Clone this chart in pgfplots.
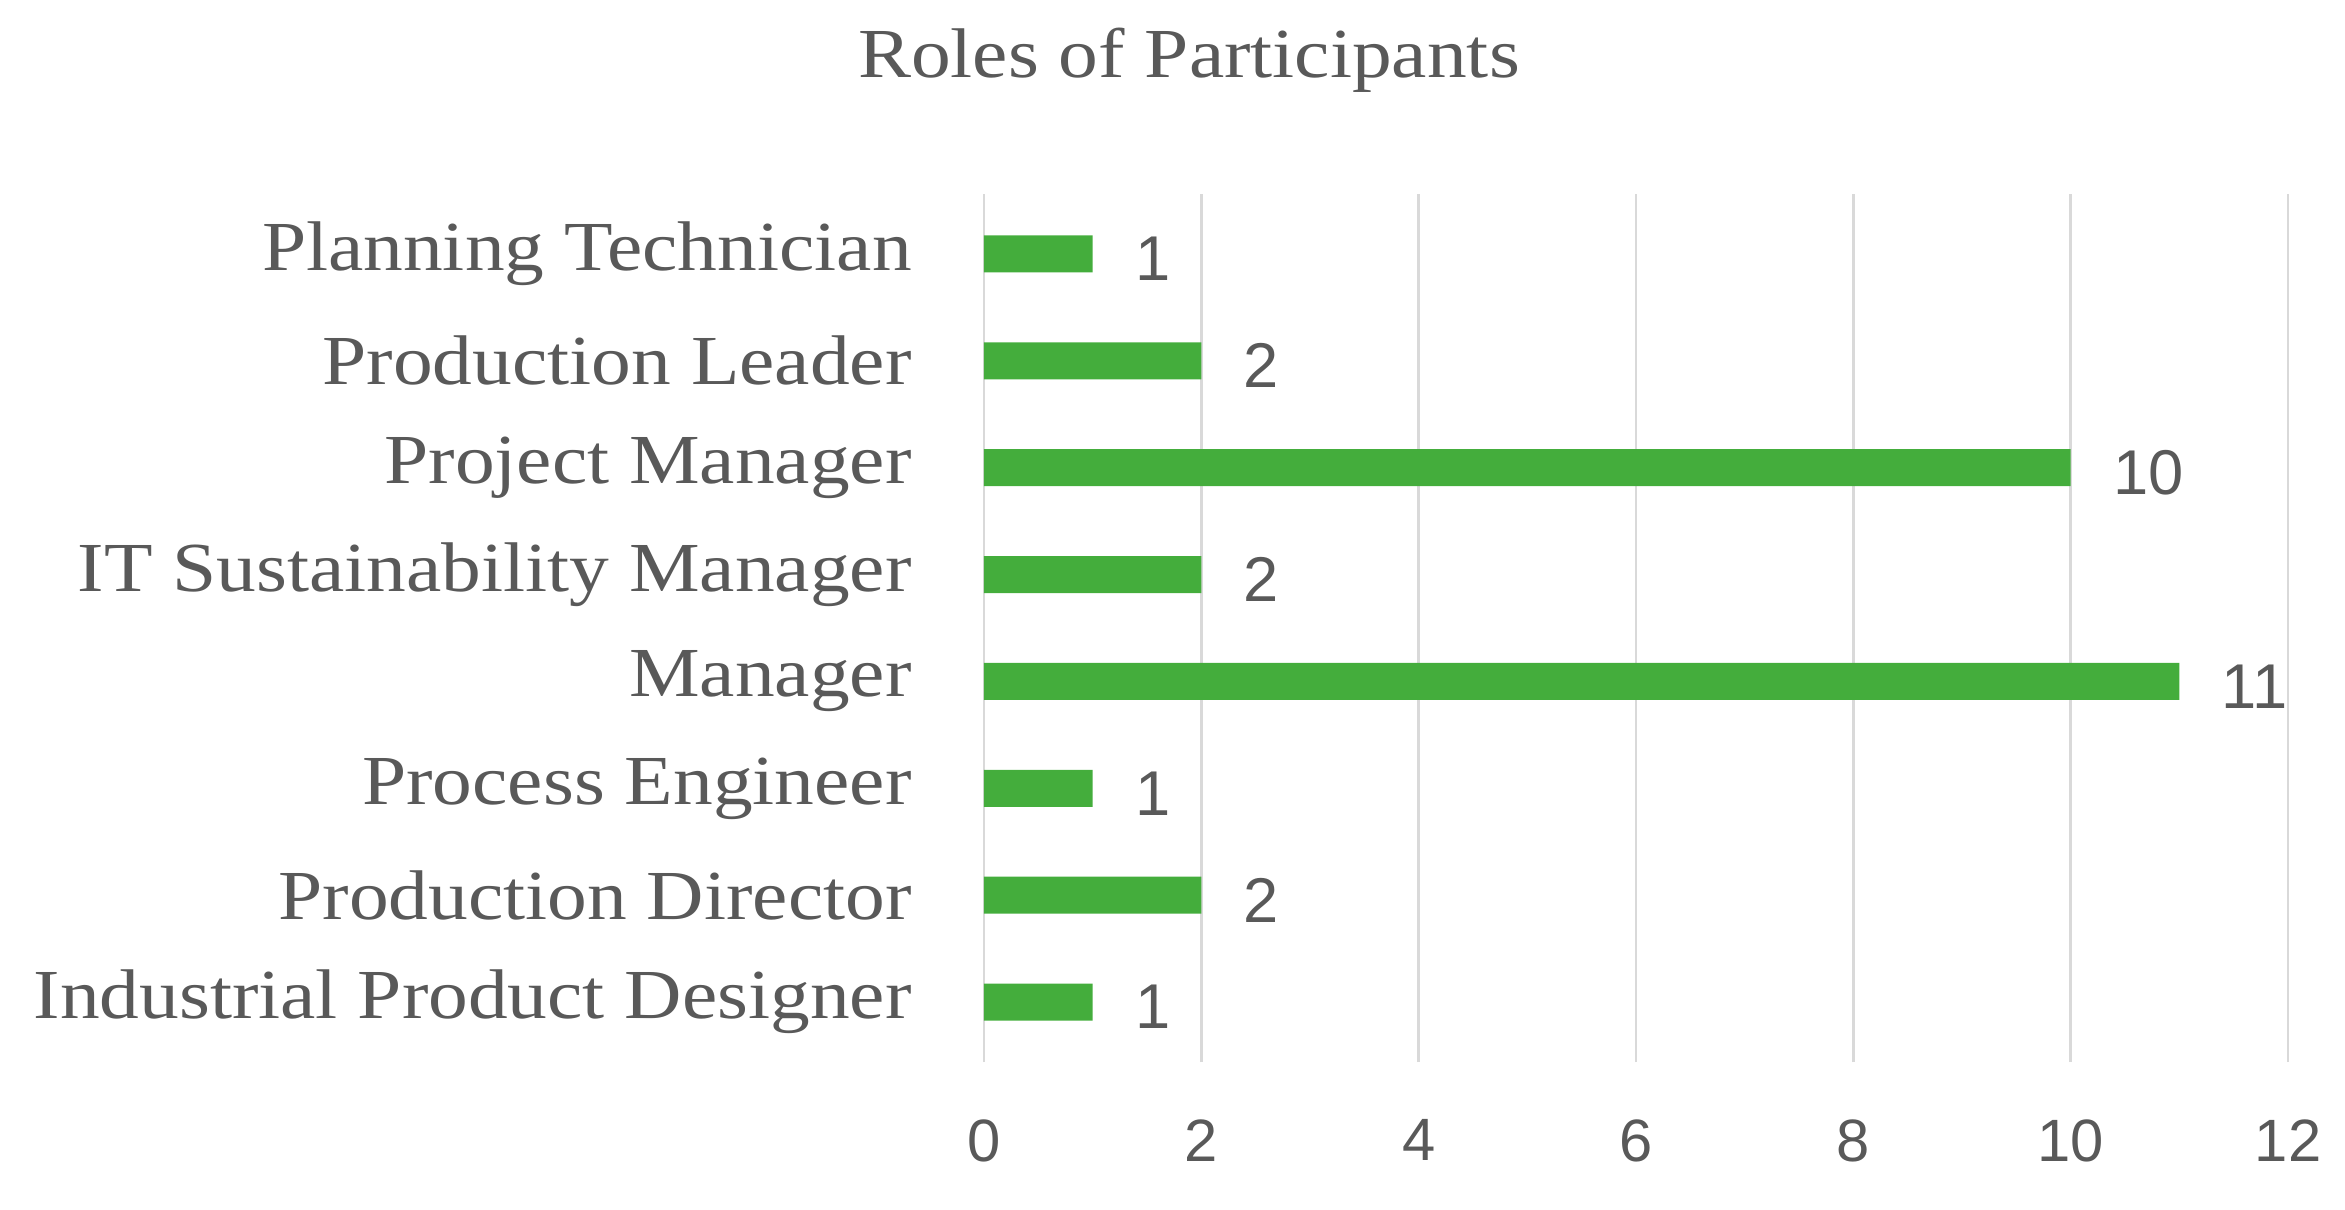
\documentclass[border=0pt]{standalone}
\usepackage{pgfplots}
\pgfplotsset{compat=1.18}
\usepackage{fontspec}
\setmainfont{Liberation Serif}[FakeStretch=1.13]
\newfontfamily\numfont{Liberation Sans}
\definecolor{barg}{HTML}{44AD3C}
\definecolor{txtg}{HTML}{595959}
\definecolor{gridg}{HTML}{D9D9D9}
\begin{document}
\begin{tikzpicture}
\path[use as bounding box] (-9.84cm,-1.47cm) rectangle (13.61cm,10.62cm);
\node[text=txtg,font=\fontsize{20}{24}\selectfont] at (2.05cm,10.02cm) {Roles of Participants};
\begin{axis}[
    scale only axis,
    width=13.04cm,
    height=8.68cm,
    xbar,
    bar width=0.37cm,
    xmin=0, xmax=12,
    ymin=-0.56, ymax=7.56,
    xtick={0,2,...,12},
    ytick={0,...,7},
    yticklabels={Industrial Product Designer,Production Director,Process Engineer,Manager,IT Sustainability Manager,Project Manager,Production Leader,Planning Technician},
    axis line style={draw=none},
    major tick length=0pt,
    xmajorgrids,
    grid style={gridg,line width=0.8pt},
    yticklabel style={text=txtg,font=\fontsize{20}{24}\selectfont,xshift=-0.6cm},
    xticklabel style={text=txtg,font=\numfont\fontsize{17}{20}\selectfont,yshift=-0.45cm},
    /pgf/number format/assume math mode=true,
    nodes near coords,
    nodes near coords style={text=txtg,font=\numfont\fontsize{18}{22}\selectfont,anchor=west,xshift=0.3cm,yshift=-0.05cm},
]
\addplot[fill=barg,draw=none] coordinates {
(1,0) (2,1) (1,2) (11,3) (2,4) (10,5) (2,6) (1,7)
};
\end{axis}
\end{tikzpicture}
\end{document}
